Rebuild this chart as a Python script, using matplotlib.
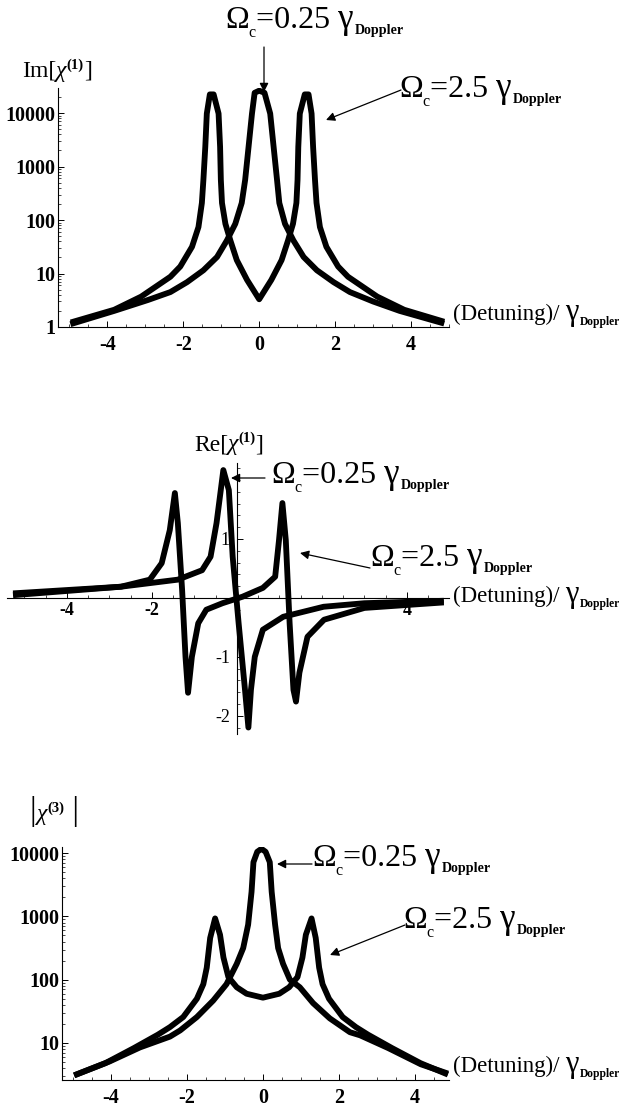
import numpy as np
import matplotlib
matplotlib.use("Agg")
import matplotlib.pyplot as plt
from matplotlib.ticker import FixedLocator, LogLocator, NullFormatter, MultipleLocator

plt.rcParams["font.family"] = ["Liberation Serif", "DejaVu Serif"]

# --- panel 1: Im[chi(1)], log scale ---
im_x_025 = [-4.9, -3.82, -2.93, -2.34, -1.9, -1.47, -1.11, -0.85, -0.63, -0.46, -0.37, -0.28,
            -0.19, -0.12, 0.0, 0.14, 0.29, 0.38, 0.47, 0.53, 0.68, 0.9, 1.17, 1.52, 1.96,
            2.39, 3.0, 3.7, 4.8]
im_y_025 = [1.17, 2.0, 3.2, 4.5, 6.9, 11.5, 20.4, 41.7, 85, 209, 562, 2340,
            9800, 24000, 26300, 24000, 9800, 2340, 562, 209, 85, 41.7, 20.4, 11.5, 6.9,
            4.5, 3.0, 2.0, 1.2]
im_x_25 = [-4.89, -3.82, -3.11, -2.34, -2.08, -1.77, -1.6, -1.51, -1.47, -1.42, -1.38, -1.3,
           -1.2, -1.07, -1.03, -1.01, -0.98, -0.89, -0.76, -0.59, -0.32, 0.0, 0.32, 0.59,
           0.76, 0.89, 0.98, 1.01, 1.03, 1.07, 1.2, 1.3, 1.38, 1.42, 1.47, 1.51, 1.6, 1.77,
           2.08, 2.34, 3.11, 3.82, 4.8]
im_y_25 = [1.26, 2.1, 3.7, 8.7, 13.5, 31.6, 74, 209, 562, 2340, 9800, 22400,
           22400, 9800, 2340, 562, 209, 85, 41.7, 17.8, 7.6, 3.3, 7.6, 17.8,
           41.7, 85, 209, 562, 2340, 9800, 22400, 22400, 9800, 2340, 562, 209, 74, 31.6,
           13.5, 8.7, 3.7, 2.1, 1.3]

# --- panel 2: Re[chi(1)], linear ---
re_x_025 = [-5.2, -2.73, -1.39, -0.82, -0.62, -0.48, -0.38, -0.32, -0.19, -0.1, 0.04, 0.19,
            0.27, 0.33, 0.42, 0.61, 1.09, 2.04, 3.0, 4.8]
re_y_025 = [0.08, 0.19, 0.31, 0.47, 0.7, 1.27, 1.83, 2.17, 1.83, 0.7, -0.43, -1.56,
            -2.2, -1.56, -1.0, -0.54, -0.32, -0.15, -0.09, -0.05]
re_x_25 = [-5.2, -2.73, -2.05, -1.77, -1.58, -1.46, -1.39, -1.29, -1.21, -1.15, -1.06, -0.91,
           -0.72, -0.34, 0.13, 0.61, 0.9, 0.99, 1.07, 1.15, 1.24, 1.33, 1.39, 1.47, 1.66,
           2.05, 3.0, 4.8]
re_y_25 = [0.05, 0.19, 0.31, 0.59, 1.15, 1.78, 1.27, 0.14, -1.0, -1.61, -1.0, -0.43,
           -0.2, -0.09, 0.02, 0.17, 0.36, 0.98, 1.61, 0.98, -0.43, -1.56, -1.76, -1.27, -0.66,
           -0.37, -0.17, -0.08]

# --- panel 3: |chi(3)|, log scale ---
c3_x_025 = [-4.9, -4.04, -3.24, -2.45, -2.18, -1.74, -1.31, -0.96, -0.69, -0.52, -0.39, -0.3,
            -0.25, -0.15, -0.04, 0.07, 0.18, 0.23, 0.32, 0.4, 0.53, 0.71, 0.97, 1.32, 1.76,
            2.29, 2.56, 3.3, 4.16, 4.8]
c3_y_025 = [3.2, 5.1, 8.5, 12.6, 15.8, 25.7, 46.8, 85, 178, 316, 741, 2450,
            7200, 10500, 11700, 10500, 7200, 2450, 741, 316, 178, 100, 76, 42.7, 24.5,
            14.8, 13.2, 8.3, 4.6, 3.4]
c3_x_25 = [-4.9, -4.15, -3.4, -2.77, -2.45, -2.1, -1.74, -1.57, -1.48, -1.39, -1.26, -1.13,
           -1.04, -0.91, -0.69, -0.43, 0.0, 0.43, 0.69, 0.91, 1.04, 1.13, 1.28, 1.39, 1.48,
           1.57, 1.74, 2.1, 2.45, 2.77, 3.4, 4.15, 4.8]
c3_y_25 = [3.2, 4.8, 8.3, 13.5, 17.8, 25.7, 50, 85, 155, 457, 930, 513,
           224, 110, 76, 60, 52, 60, 76, 110, 224, 513, 930, 457, 155,
           85, 50, 25.7, 17.8, 13.5, 8.3, 4.8, 3.3]

x_ticks = [-4, -2, 0, 2, 4]
x_ticklabels = ["-4", "-2", "0", "2", "4"]
x_ticks_re = [-4, -2, 4]
x_ticklabels_re = ["-4", "-2", "4"]
y_ticks_re = [-2, -1, 1]
y_ticklabels_re = ["-2", "-1", "1"]
log_ticks = [1, 10, 100, 1000, 10000]
log_ticklabels = ["1", "10", "100", "1000", "10000"]

W, H = 634, 1108
fig = plt.figure(figsize=(W / 100, H / 100), dpi=100)


def fpos(x, y):
    return (x / W, 1 - y / H)


def box(left, top, right, bottom):
    return [left / W, 1 - bottom / H, (right - left) / W, (bottom - top) / H]


LW = 4.2

# panel 1
ax1 = fig.add_axes(box(58, 88, 449, 327))
ax1.plot(im_x_025, im_y_025, color="black", lw=LW, zorder=3)
ax1.plot(im_x_25, im_y_25, color="black", lw=LW, zorder=3)
ax1.set_yscale("log")
ax1.set_xlim(-5.3, 5.0)
ax1.set_ylim(1, 29500)

# panel 2
ax2 = fig.add_axes(box(7, 463, 449, 734))
ax2.plot(re_x_025, re_y_025, color="black", lw=LW, zorder=3)
ax2.plot(re_x_25, re_y_25, color="black", lw=LW, zorder=3)
ax2.set_xlim(-5.41, 4.99)
ax2.set_ylim(-2.31, 2.29)
ax2.spines["left"].set_position(("data", 0))
ax2.spines["bottom"].set_position(("data", 0))

# panel 3
ax3 = fig.add_axes(box(61.7, 847, 449, 1080))
ax3.plot(c3_x_025, c3_y_025, color="black", lw=LW, zorder=3)
ax3.plot(c3_x_25, c3_y_25, color="black", lw=LW, zorder=3)
ax3.set_yscale("log")
ax3.set_xlim(-5.3, 4.9)
ax3.set_ylim(2.6, 12500)

for ax in (ax1, ax2, ax3):
    ax.patch.set_visible(False)
    ax.spines["top"].set_visible(False)
    ax.spines["right"].set_visible(False)
    for s in ("left", "bottom"):
        ax.spines[s].set_linewidth(0.8)
    ax.tick_params(which="major", direction="in", length=4, width=0.7)
    ax.tick_params(which="minor", direction="in", length=2, width=0.5)

for ax in (ax1, ax3):
    ax.xaxis.set_major_locator(FixedLocator(x_ticks))
    ax.set_xticklabels(x_ticklabels, fontsize=14.5, fontweight="bold")
    ax.xaxis.set_minor_locator(MultipleLocator(0.5))
    ax.yaxis.set_major_locator(FixedLocator(log_ticks))
    ax.set_yticklabels(log_ticklabels, fontsize=14.5, fontweight="bold")
    ax.yaxis.set_minor_locator(LogLocator(base=10, subs=np.arange(2, 10)))
    ax.yaxis.set_minor_formatter(NullFormatter())
    ax.tick_params(axis="x", which="major", pad=6)
    ax.tick_params(axis="y", which="major", pad=2)

ax2.xaxis.set_major_locator(FixedLocator(x_ticks_re))
ax2.set_xticklabels(x_ticklabels_re, fontsize=13, fontweight="bold")
ax2.xaxis.set_minor_locator(MultipleLocator(0.5))
ax2.yaxis.set_major_locator(FixedLocator(y_ticks_re))
ax2.set_yticklabels(y_ticklabels_re, fontsize=13)
ax2.yaxis.set_minor_locator(MultipleLocator(0.2))
ax2.tick_params(axis="x", which="major", pad=3)
ax2.tick_params(axis="y", which="major", pad=5)

renderer = fig.canvas.get_renderer()


def rich(x, y, parts):
    # parts: (text, size, weight, style, dy in px)
    cur = x
    for s, size, weight, style, dy in parts:
        t = fig.text(cur / W, 1 - (y + dy) / H, s, fontsize=size, fontweight=weight,
                     fontstyle=style, ha="left", va="baseline")
        cur = t.get_window_extent(renderer=renderer).x1


def omega(x, y, val, size=23):
    rich(x, y, [("Ω", size, "normal", "normal", 0),
                ("c", size * 0.5, "normal", "normal", 9),
                ("=" + val + " ", size, "normal", "normal", 0),
                ("γ", size * 1.1, "normal", "normal", 0),
                (" ", size * 0.15, "normal", "normal", 0),
                ("Doppler", size * 0.44, "bold", "normal", 6)])


def detuning(x, y):
    rich(x, y, [("(Detuning)/ ", 16.5, "normal", "normal", 0),
                ("γ", 22, "normal", "normal", 0),
                (" ", 4, "normal", "normal", 0),
                ("Doppler", 8.3, "bold", "normal", 5)])


def chi(x, y, head, order, tail, bar=17):
    rich(x, y, [(head, bar, "normal", "normal", 0),
                ("χ", 17, "normal", "italic", 0),
                ("(" + order + ")", 10.5, "bold", "normal", -8),
                (tail, bar, "normal", "normal", 0)])


def arrow(p0, p1):
    fig.add_artist(matplotlib.patches.FancyArrowPatch(
        fpos(*p0), fpos(*p1), transform=fig.transFigure, arrowstyle="-|>",
        mutation_scale=13, lw=0.9, color="black", shrinkA=0, shrinkB=0))


# panel 1 texts
chi(22, 77, "Im[", "1", "]")
omega(225, 28, "0.25")
arrow((264, 47), (264, 92))
omega(399, 97, "2.5")
arrow((401, 90), (326, 120))
detuning(453, 320)

# panel 2 texts
chi(194, 450, "Re[", "1", "]")
omega(271, 483, "0.25")
arrow((265, 478), (231, 478))
omega(370, 566, "2.5")
arrow((370, 568), (300, 553))
detuning(453, 602)

# panel 3 texts
chi(30, 820, "|", "3", " |", bar=24)
omega(312, 866, "0.25")
arrow((312, 864), (277, 864))
omega(403, 928, "2.5")
arrow((405, 925), (330, 955))
detuning(453, 1072)

fig.savefig("out.png", dpi=100)
